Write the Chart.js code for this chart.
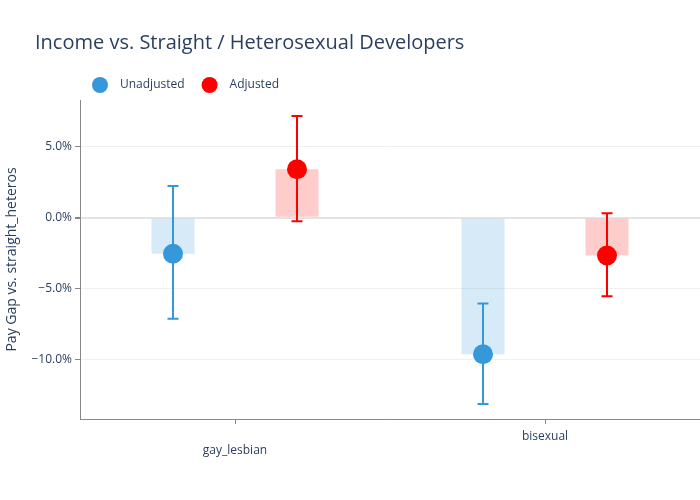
<!DOCTYPE html>
<html>
<head>
<meta charset="utf-8">
<script src="https://cdn.jsdelivr.net/npm/chart.js@4/dist/chart.umd.min.js"></script>
<style>
  html, body { margin: 0; padding: 0; background: #fff; }
  #wrap { width: 700px; height: 500px; }
</style>
</head>
<body>
<div id="wrap"><canvas id="chart"></canvas></div>
<script>
// Pay gap data (percent)
const categories = ['gay_lesbian', 'bisexual'];
const unadjusted = [-2.54, -9.63];
const unadjustedLow = [-7.13, -13.14];
const unadjustedHigh = [2.24, -6.05];
const adjusted = [3.42, -2.66];
const adjustedLow = [-0.25, -5.53];
const adjustedHigh = [7.18, 0.31];
const yTicks = [-10, -5, 0, 5];
const titleText = 'Income vs. Straight / Heterosexual Developers';

const FONT = "'Open Sans', sans-serif";
const TEXT = '#2a3f5f';
const BLUE = '#3498db';
const RED = '#ff0000';
const SHIFT = 0.2; // side-by-side offset within a category

// error bars, drawn just before each point dataset so the marker sits on top
const errorBars = {
    id: 'errorBars',
    beforeDatasetDraw(chart, args) {
        const ds = chart.data.datasets[args.index];
        if (!ds.errLow) return;
        const ctx = chart.ctx;
        const xs = chart.scales.xPos, ys = chart.scales.y;
        ctx.save();
        ctx.strokeStyle = ds.borderColor;
        ctx.lineWidth = 2;
        ds.data.forEach((p, i) => {
            const x = xs.getPixelForValue(p.x);
            const y1 = ys.getPixelForValue(ds.errLow[i]);
            const y2 = ys.getPixelForValue(ds.errHigh[i]);
            ctx.beginPath();
            ctx.moveTo(x, y1); ctx.lineTo(x, y2);
            ctx.moveTo(x - 5.5, y1); ctx.lineTo(x + 5.5, y1);
            ctx.moveTo(x - 5.5, y2); ctx.lineTo(x + 5.5, y2);
            ctx.stroke();
        });
        ctx.restore();
    }
};

// plotly-like title and legend (legend shows only the marker datasets)
const header = {
    id: 'header',
    afterDraw(chart) {
        const ctx = chart.ctx;
        ctx.save();
        ctx.textBaseline = 'middle';
        ctx.fillStyle = TEXT;
        ctx.font = '20px ' + FONT;
        ctx.fillText(titleText, 35, 43);

        let x = 100;
        const y = 85;
        ctx.font = '12px ' + FONT;
        chart.data.datasets.filter(d => d.errLow).forEach(d => {
            ctx.fillStyle = d.backgroundColor;
            ctx.beginPath();
            ctx.arc(x, y, 8, 0, Math.PI * 2);
            ctx.fill();
            ctx.fillStyle = TEXT;
            ctx.fillText(d.label, x + 20, y);
            x += 20 + ctx.measureText(d.label).width + 25;
        });
        ctx.restore();
    }
};

const noPad = s => { s.paddingLeft = 0; s.paddingRight = 0; s.paddingTop = 0; s.paddingBottom = 0; };

const ctx = document.getElementById('chart').getContext('2d');
new Chart(ctx, {
    data: {
        labels: categories,
        datasets: [
            {
                type: 'bar', label: 'Unadjusted bar', xAxisID: 'xPos',
                data: unadjusted.map((v, i) => ({ x: i - SHIFT, y: v })),
                backgroundColor: 'rgba(52,152,219,0.2)', order: 2
            },
            {
                type: 'bar', label: 'Adjusted bar', xAxisID: 'xPos',
                data: adjusted.map((v, i) => ({ x: i + SHIFT, y: v })),
                backgroundColor: 'rgba(255,0,0,0.2)', order: 2
            },
            {
                type: 'line', label: 'Unadjusted', xAxisID: 'xPos',
                data: unadjusted.map((v, i) => ({ x: i - SHIFT, y: v })),
                errLow: unadjustedLow, errHigh: unadjustedHigh,
                showLine: false, pointRadius: 10, borderWidth: 0,
                backgroundColor: BLUE, borderColor: BLUE, order: 1
            },
            {
                type: 'line', label: 'Adjusted', xAxisID: 'xPos',
                data: adjusted.map((v, i) => ({ x: i + SHIFT, y: v })),
                errLow: adjustedLow, errHigh: adjustedHigh,
                showLine: false, pointRadius: 10, borderWidth: 0,
                backgroundColor: RED, borderColor: RED, order: 1
            }
        ]
    },
    options: {
        responsive: true,
        maintainAspectRatio: false,
        animation: false,
        datasets: { bar: { grouped: false, categoryPercentage: 1, barPercentage: 0.347 } },
        layout: { autoPadding: false, padding: { top: 100, left: 0, right: 0, bottom: 0 } },
        plugins: {
            legend: { display: false },
            tooltip: { enabled: false },
            title: { display: false }
        },
        scales: {
            x: {
                type: 'category',
                offset: true,
                afterFit: s => { s.height = 81; noPad(s); },
                grid: { offset: false, drawOnChartArea: false, drawTicks: true, tickLength: 5, color: '#888' },
                border: { display: true, color: '#888', width: 1 },
                ticks: {
                    color: TEXT, padding: 5,
                    font: { family: FONT, size: 12 },
                    callback: (v, i) => i % 2 === 0 ? ['', categories[i]] : categories[i]
                }
            },
            xPos: {
                type: 'linear', min: -0.5, max: 1.5, offset: false, display: false,
                afterFit: noPad
            },
            y: {
                min: -14.2, max: 8.31,
                afterFit: s => { s.width = 80; noPad(s); },
                afterBuildTicks: s => { s.ticks = yTicks.map(v => ({ value: v })); },
                border: { display: true, color: '#888', width: 1 },
                grid: {
                    color: c => c.type === 'tick' && c.tick.value === 0 ? '#e3e3e3' : '#f0f0f0',
                    lineWidth: c => c.type === 'tick' && c.tick.value === 0 ? 2 : 1,
                    tickColor: '#888', tickLength: 5
                },
                ticks: {
                    color: TEXT, padding: 3,
                    font: { family: FONT, size: 12 },
                    callback: v => (v < 0 ? '\u2212' : '') + Math.abs(v).toFixed(1) + '%'
                },
                title: {
                    display: true, text: 'Pay Gap vs. straight_heteros',
                    color: TEXT, font: { family: FONT, size: 14 }
                }
            }
        }
    },
    plugins: [errorBars, header]
});
</script>
</body>
</html>
